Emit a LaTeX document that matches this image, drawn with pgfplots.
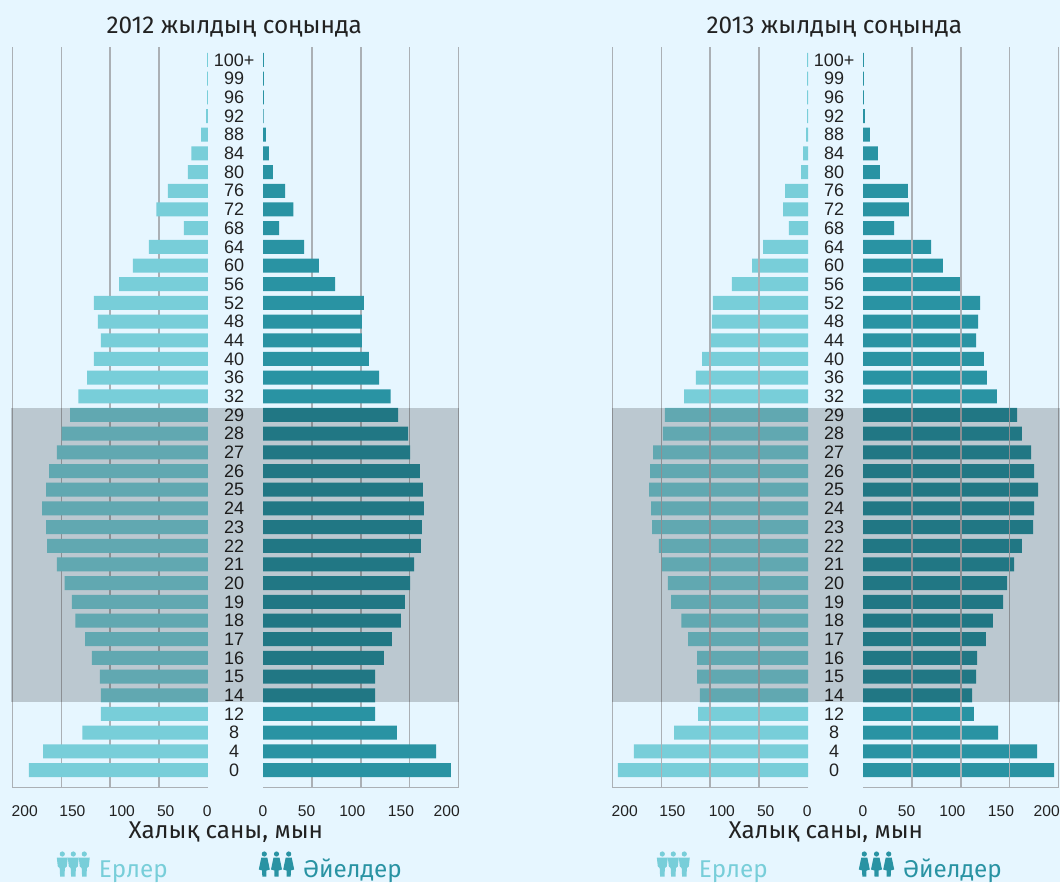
\documentclass[border=0pt]{standalone}
\usepackage{fontspec}
\setmainfont{Fira Sans}
\newfontfamily\arialf{Liberation Sans}
\usepackage{pgfplots}
\usepackage{pgfplotstable}
\pgfplotsset{compat=1.18}
\definecolor{bgc}{HTML}{E6F6FF}
\definecolor{malec}{HTML}{78CED9}
\definecolor{femc}{HTML}{2993A3}
\definecolor{gridc}{HTML}{ABB0B5}
\definecolor{txtc}{HTML}{222222}
\def\u{0.75pt}
% row male female
\pgfplotstableread{
row m f
0 183 192.1
1 168.4 176.8
2 128.5 136.9
3 109.6 114.6
4 109.6 114.6
5 110.6 114.6
6 118.6 123.6
7 125.6 131.8
8 135.5 141
9 139 145.1
10 146.5 150.3
11 154.5 154.5
12 164.4 161.4
13 165.4 162.4
14 169.4 164.4
15 165.4 163.4
16 162.4 160.4
17 154.5 150.3
18 149.5 148.2
19 141 138
20 132.5 130.5
21 123.6 118.6
22 116.6 108.3
23 109.6 101.1
24 112.6 101.1
25 116.6 103.2
26 90.7 73.7
27 76.7 57.2
28 60.3 41.9
29 24.6 16.4
30 52.8 31
31 40.9 22.5
32 20.5 10
33 17 6
34 7 3
35 2 0.7
36 1 1
37 1 1
38 1 1
}\tblA
\pgfplotstableread{
row m f
0 194.3 195.3
1 177.9 177.9
2 136.9 138
3 112.4 113.4
4 110.4 111.4
5 113.4 115.6
6 113.4 116.6
7 122.6 125.6
8 129.5 132.8
9 140 143.1
10 143.1 147.2
11 149.9 154.5
12 152.3 162.4
13 159.4 173.8
14 160.4 174.8
15 162.4 178.9
16 161.4 174.8
17 158.4 171.7
18 148.2 162.4
19 146.2 157.4
20 126.6 136.9
21 114.6 126.6
22 108.3 123.6
23 100.1 115.6
24 98.2 117.6
25 97.1 119.6
26 77.7 100.6
27 57.2 81.7
28 45.8 69.5
29 19.5 31.7
30 25.5 46.8
31 23.5 45.8
32 7 17.3
33 5 15.3
34 2 7
35 1 2
36 1 1
37 1 1
38 1 1
}\tblB
\pgfplotsset{
  common/.style={
    scale only axis, width=146.775pt, height=555.525pt,
    xmin=0, xmax=200, ymin=-0.947, ymax=38.696,
    clip=false, axis x line=bottom, axis y line=left,
    axis line style={-},
    x axis line style={draw=gridc, line width=1pt},
    y axis line style={draw=none},
    tick style={draw=none},
    ytick={0,...,38},
    xticklabel style={anchor=base, yshift=-26.3*\u, inner sep=0pt,
      font=\arialf\fontsize{11.7}{12}\selectfont, text=txtc},
    no markers,
  },
  leftaxis/.style={common, x dir=reverse, yticklabels={},
    xtick={0.7,43.2,88,138.6,187.3}, xticklabels={0,50,100,150,200}},
  rightaxis/.style={common,
    xtick={0,44.6,91.3,141,187.7}, xticklabels={0,50,100,150,200},
    yticklabels={0,4,8,12,14,15,16,17,18,19,20,21,22,23,24,25,26,27,28,29,32,36,40,44,48,52,56,60,64,68,72,76,80,84,88,92,96,99,100+},
    yticklabel style={anchor=center, xshift=-26*\u, inner sep=0pt,
      font=\arialf\fontsize{13.5}{14}\selectfont, text=txtc}},
  barm/.style={xbar, bar shift=0pt, bar width=10.5pt, draw=none, fill=malec},
  barf/.style={xbar, bar shift=0pt, bar width=10.5pt, draw=none, fill=femc},
  gl/.style={draw=gridc, line width=1.05pt, forget plot},
}
\newcommand{\man}[2]{%
  \fill (#1*\u,{(882-854)*\u}) circle (2.6*\u);
  \fill ({(#1-5.5)*\u},{(882-857.5)*\u}) -- ({(#1+5.5)*\u},{(882-857.5)*\u}) -- ({(#1+4.5)*\u},{(882-866.5)*\u}) -- ({(#1+2.6)*\u},{(882-868)*\u}) -- ({(#1+2.2)*\u},{(882-876.5)*\u}) -- ({(#1-2.2)*\u},{(882-876.5)*\u}) -- ({(#1-2.6)*\u},{(882-868)*\u}) -- ({(#1-4.5)*\u},{(882-866.5)*\u}) -- cycle;}
\newcommand{\woman}[2]{%
  \fill (#1*\u,{(882-854)*\u}) circle (2.6*\u);
  \fill ({(#1-3)*\u},{(882-857.5)*\u}) -- ({(#1+3)*\u},{(882-857.5)*\u}) -- ({(#1+5.5)*\u},{(882-869.5)*\u}) -- ({(#1+2.2)*\u},{(882-870.5)*\u}) -- ({(#1+2)*\u},{(882-876.5)*\u}) -- ({(#1-2)*\u},{(882-876.5)*\u}) -- ({(#1-2.2)*\u},{(882-870.5)*\u}) -- ({(#1-5.5)*\u},{(882-869.5)*\u}) -- cycle;}
\begin{document}
\begin{tikzpicture}
\useasboundingbox (0,0) rectangle (1060*\u,882*\u);
\fill[bgc] (0,0) rectangle (1060*\u,882*\u);
% 2012 ---------------------------------------------------
\begin{axis}[leftaxis, at={(12.3*\u,94.3*\u)}, anchor=south west]
  \addplot[gl] coordinates {(50,-0.947)(50,38.696)};
  \addplot[gl] coordinates {(100,-0.947)(100,38.696)};
  \addplot[gl] coordinates {(150,-0.947)(150,38.696)};
  \addplot[gl] coordinates {(200,-0.947)(200,38.696)};
  \addplot[barm] table[x=m,y=row] {\tblA};
\end{axis}
\begin{axis}[rightaxis, at={(263*\u,94.3*\u)}, anchor=south west]
  \addplot[gl] coordinates {(50,-0.947)(50,38.696)};
  \addplot[gl] coordinates {(100,-0.947)(100,38.696)};
  \addplot[gl] coordinates {(150,-0.947)(150,38.696)};
  \addplot[gl] coordinates {(200,-0.947)(200,38.696)};
  \addplot[barf] table[x=f,y=row] {\tblA};
  \addplot[draw=none, fill=black, fill opacity=0.185, forget plot]
    coordinates {(-257.5,3.655)(200,3.655)(200,19.375)(-257.5,19.375)} --cycle;
\end{axis}
% 2013 ---------------------------------------------------
\begin{axis}[leftaxis, at={(612.3*\u,94.3*\u)}, anchor=south west]
  \addplot[barm] table[x=m,y=row] {\tblB};
  \addplot[gl] coordinates {(50,-0.947)(50,38.696)};
  \addplot[gl] coordinates {(100,-0.947)(100,38.696)};
  \addplot[gl] coordinates {(150,-0.947)(150,38.696)};
  \addplot[gl] coordinates {(200,-0.947)(200,38.696)};
\end{axis}
\begin{axis}[rightaxis, at={(863*\u,94.3*\u)}, anchor=south west]
  \addplot[barf] table[x=f,y=row] {\tblB};
  \addplot[gl] coordinates {(50,-0.947)(50,38.696)};
  \addplot[gl] coordinates {(100,-0.947)(100,38.696)};
  \addplot[gl] coordinates {(150,-0.947)(150,38.696)};
  \addplot[gl] coordinates {(200,-0.947)(200,38.696)};
  \addplot[draw=none, fill=black, fill opacity=0.185, forget plot]
    coordinates {(-256.5,3.655)(201.5,3.655)(201.5,19.375)(-256.5,19.375)} --cycle;
\end{axis}
% texts ----------------------------------------------------
\begin{scope}[every node/.style={inner sep=0pt, anchor=base}]
  \node[text=txtc, font=\fontsize{18.3}{20}\selectfont] at (234.3*\u,848*\u) {2012 жылдың соңында};
  \node[text=txtc, font=\fontsize{18.3}{20}\selectfont] at (834.3*\u,848*\u) {2013 жылдың соңында};
  \node[text=txtc, font=\fontsize{18.2}{20}\selectfont] at (225.8*\u,44*\u) {Халық саны, мын};
  \node[text=txtc, font=\fontsize{18.2}{20}\selectfont] at (825.8*\u,44*\u) {Халық саны, мын};
  \node[text=malec, font=\fontsize{18.2}{20}\selectfont, anchor=base west] at (98.7*\u,5*\u) {Ерлер};
  \node[text=malec, font=\fontsize{18.2}{20}\selectfont, anchor=base west] at (698.7*\u,5*\u) {Ерлер};
  \node[text=femc, font=\fontsize{18.2}{20}\selectfont, anchor=base west] at (303*\u,5*\u) {Әйелдер};
  \node[text=femc, font=\fontsize{18.2}{20}\selectfont, anchor=base west] at (903*\u,5*\u) {Әйелдер};
\end{scope}
\begin{scope}[fill=malec]
  \man{62.3}{0}\man{73.3}{0}\man{84.3}{0}
  \man{662.3}{0}\man{673.3}{0}\man{684.3}{0}
\end{scope}
\begin{scope}[fill=femc]
  \woman{264.3}{0}\woman{276.5}{0}\woman{288.7}{0}
  \woman{864.3}{0}\woman{876.5}{0}\woman{888.7}{0}
\end{scope}
\end{tikzpicture}
\end{document}
